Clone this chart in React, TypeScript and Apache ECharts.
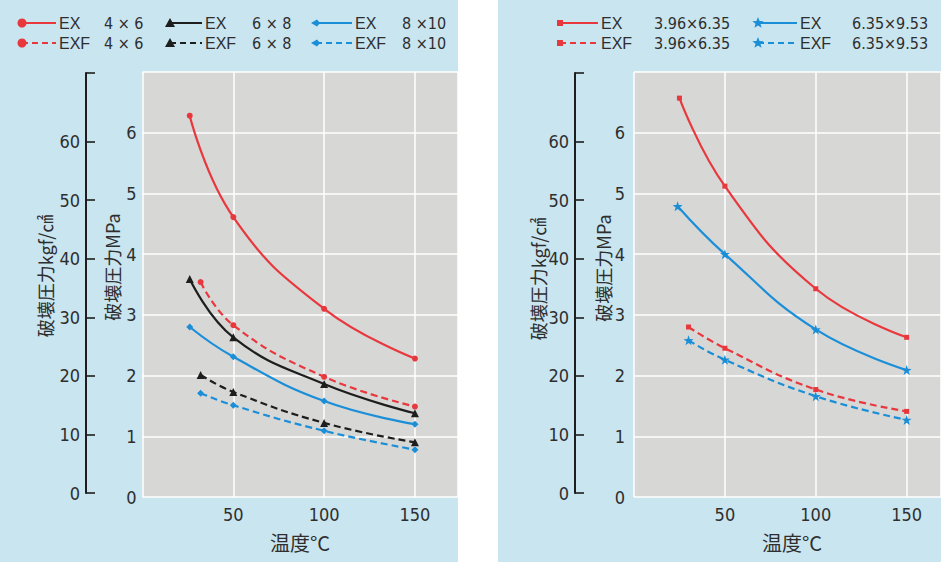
import React, { useEffect, useRef } from "react";
import * as echarts from "echarts";

// ---------- data ----------
const mpaTickLabels = [0, 1, 2, 3, 4, 5, 6];
const kgfTickLabels = [0, 10, 20, 30, 40, 50, 60];
const xTickLabels = [50, 100, 150];

const yNameKgf = "破壊圧力kgf/㎠";
const yNameMpa = "破壊圧力MPa";
const xName = "温度°C";

// left panel
const leftTempsEX = [26, 50, 100, 150];
const leftTempsEXF = [32, 50, 100, 150];
const ex4x6 = [6.28, 4.61, 3.1, 2.28];
const exf4x6 = [3.54, 2.83, 1.98, 1.49];
const ex6x8 = [3.59, 2.63, 1.86, 1.38];
const exf6x8 = [2.01, 1.73, 1.22, 0.9];
const ex8x10 = [2.8, 2.31, 1.58, 1.2];
const exf8x10 = [1.71, 1.51, 1.09, 0.78];

// right panel
const rightTempsEX396 = [25, 50, 100, 150];
const rightTempsEX635 = [24, 50, 100, 150];
const rightTempsEXF = [30, 50, 100, 150];
const ex396 = [6.57, 5.12, 3.43, 2.63];
const ex635 = [4.79, 4.0, 2.76, 2.09];
const exf396 = [2.8, 2.45, 1.77, 1.41];
const exf635 = [2.58, 2.26, 1.66, 1.27];

// ---------- styles ----------
const RED = "#e8383d";
const BLACK = "#1e1e1e";
const BLUE = "#1a8fd8";
const TEXT = "#2e2e2e";
const NARROW = '"Liberation Sans Narrow", "DejaVu Sans Condensed", "Roboto", sans-serif';
const SANS = '"Liberation Sans", Arial, sans-serif';
const CJK = '"Noto Sans CJK JP", sans-serif';
const STAR =
  "path://M0,-10 L2.35,-3.24 L9.51,-3.09 L3.8,1.24 L5.88,8.09 L0,4 L-5.88,8.09 L-3.8,1.24 L-9.51,-3.09 L-2.35,-3.24 Z";

type Spec = {
  kind: string;
  size: string;
  temps: number[];
  values: number[];
  color: string;
  marker: string;
  panel: number;
  col: number;
  row: number;
};

const specs: Spec[] = [
  { kind: "EX", size: "4×6", temps: leftTempsEX, values: ex4x6, color: RED, marker: "circle", panel: 0, col: 0, row: 0 },
  { kind: "EXF", size: "4×6", temps: leftTempsEXF, values: exf4x6, color: RED, marker: "circle", panel: 0, col: 0, row: 1 },
  { kind: "EX", size: "6×8", temps: leftTempsEX, values: ex6x8, color: BLACK, marker: "triangle", panel: 0, col: 1, row: 0 },
  { kind: "EXF", size: "6×8", temps: leftTempsEXF, values: exf6x8, color: BLACK, marker: "triangle", panel: 0, col: 1, row: 1 },
  { kind: "EX", size: "8×10", temps: leftTempsEX, values: ex8x10, color: BLUE, marker: "diamond", panel: 0, col: 2, row: 0 },
  { kind: "EXF", size: "8×10", temps: leftTempsEXF, values: exf8x10, color: BLUE, marker: "diamond", panel: 0, col: 2, row: 1 },
  { kind: "EX", size: "3.96×6.35", temps: rightTempsEX396, values: ex396, color: RED, marker: "rect", panel: 1, col: 0, row: 0 },
  { kind: "EXF", size: "3.96×6.35", temps: rightTempsEXF, values: exf396, color: RED, marker: "rect", panel: 1, col: 0, row: 1 },
  { kind: "EX", size: "6.35×9.53", temps: rightTempsEX635, values: ex635, color: BLUE, marker: "star", panel: 1, col: 1, row: 0 },
  { kind: "EXF", size: "6.35×9.53", temps: rightTempsEXF, values: exf635, color: BLUE, marker: "star", panel: 1, col: 1, row: 1 },
];

// layout
const mainGrids = [
  { left: 142.5, top: 72, width: 315.5, height: 425, xMax: 173.7 },
  { left: 634, top: 72, width: 307, height: 425, xMax: 168.9 },
];
const kgfAxes = [
  { left: 86, top: 73, height: 420, max: 71.7 },
  { left: 575, top: 73, height: 420, max: 71.7 },
];
const legendCols = [
  [
    { mx: 22, tx: 59, sx: 104 },
    { mx: 170, tx: 205, sx: 252 },
    { mx: 316, tx: 355, sx: 402 },
  ],
  [
    { mx: 560, tx: 601, sx: 654 },
    { mx: 758, tx: 800, sx: 852 },
  ],
];
const legendRows = [23, 43];
const nameSpots = [
  { kgf: [45, 276], mpa: [112, 267], x: [300, 542] },
  { kgf: [538, 279], mpa: [603, 268], x: [792, 542] },
];

function markerGraphic(marker: string, cx: number, cy: number, color: string): any {
  if (marker === "circle") return { type: "circle", shape: { cx, cy, r: 4.5 }, style: { fill: color } };
  if (marker === "rect") return { type: "rect", shape: { x: cx - 3, y: cy - 3, width: 6, height: 6 }, style: { fill: color } };
  if (marker === "triangle")
    return {
      type: "polygon",
      shape: { points: [[cx, cy - 5], [cx + 5, cy + 4], [cx - 5, cy + 4]] },
      style: { fill: color },
    };
  if (marker === "diamond")
    return {
      type: "polygon",
      shape: { points: [[cx - 5, cy], [cx + 1, cy - 3.5], [cx + 4, cy], [cx + 1, cy + 3.5]] },
      style: { fill: color },
    };
  // star
  const pts: number[][] = [];
  for (let i = 0; i < 10; i++) {
    const r = i % 2 === 0 ? 6 : 2.6;
    const a = -Math.PI / 2 + (i * Math.PI) / 5;
    pts.push([cx + r * Math.cos(a), cy + r * Math.sin(a)]);
  }
  return { type: "polygon", shape: { points: pts }, style: { fill: color } };
}

function seriesSymbol(marker: string) {
  if (marker === "star") return { symbol: STAR, symbolSize: 10 };
  if (marker === "rect") return { symbol: "rect", symbolSize: 5 };
  if (marker === "triangle") return { symbol: "triangle", symbolSize: 8 };
  if (marker === "diamond") return { symbol: "diamond", symbolSize: 7 };
  return { symbol: "circle", symbolSize: 6 };
}

function displaySize(panel: number, size: string) {
  if (panel !== 0) return size;
  const [a, b] = size.split("×");
  return a + " ×" + (b.length > 1 ? "" : " ") + b;
}

export default function App() {
  const ref = useRef<HTMLDivElement>(null);
  useEffect(() => {
    document.body.style.margin = "0";
    const chart = echarts.init(ref.current!, null, { renderer: "svg" });

    const grids: any[] = [];
    const xAxes: any[] = [];
    const yAxes: any[] = [];

    mainGrids.forEach((g, i) => {
      grids.push({
        left: g.left,
        top: g.top,
        width: g.width,
        height: g.height,
        show: true,
        backgroundColor: "#d7d7d6",
        borderWidth: 0,
      });
      xAxes.push({
        gridIndex: i,
        type: "value",
        min: 0,
        max: g.xMax,
        interval: 50,
        axisLine: { show: false },
        axisTick: { show: false },
        axisLabel: {
          customValues: xTickLabels,
          color: TEXT,
          fontSize: 18,
          fontFamily: NARROW,
          margin: 8,
        },
        splitLine: { show: true, lineStyle: { color: "#ffffff", width: 1.5 } },
      });
      yAxes.push({
        gridIndex: i,
        type: "value",
        min: 0,
        max: 7,
        interval: 1,
        axisLine: { show: false },
        axisTick: { show: false },
        axisLabel: {
          customValues: mpaTickLabels,
          color: TEXT,
          fontSize: 18,
          fontFamily: NARROW,
          margin: i === 0 ? 6 : 9,
        },
        splitLine: { show: true, lineStyle: { color: "#ffffff", width: 1.5 } },
      });
    });

    kgfAxes.forEach((k, j) => {
      const gi = 2 + j;
      grids.push({ left: k.left, top: k.top, width: 12, height: k.height, show: false });
      xAxes.push({ gridIndex: gi, type: "value", min: 0, max: 1, show: false });
      yAxes.push({
        gridIndex: gi,
        type: "value",
        min: 0,
        max: k.max,
        interval: 10,
        axisLine: { show: true, lineStyle: { color: BLACK, width: 2 } },
        axisTick: {
          show: true,
          inside: true,
          length: 9,
          customValues: [...kgfTickLabels, k.max],
          lineStyle: { color: BLACK, width: 1.6 },
        },
        axisLabel: {
          customValues: kgfTickLabels,
          color: TEXT,
          fontSize: 18,
          fontFamily: NARROW,
          margin: 6,
        },
        splitLine: { show: false },
      });
    });

    const series = specs.map((s) => ({
      type: "line",
      name: `${s.kind} ${s.size}`,
      xAxisIndex: s.panel,
      yAxisIndex: s.panel,
      data: s.temps.map((t, i) => [t, s.values[i]]),
      smooth: 0.45,
      ...seriesSymbol(s.marker),
      showSymbol: true,
      lineStyle: { color: s.color, width: 2.2, type: s.kind === "EXF" ? [7, 4] : "solid" },
      itemStyle: { color: s.color },
      z: 3,
    }));

    const graphics: any[] = [];
    specs.forEach((s) => {
      const c = legendCols[s.panel][s.col];
      const y = legendRows[s.row];
      graphics.push({
        type: "line",
        shape: { x1: c.mx, y1: y, x2: c.tx - 3, y2: y },
        style: { stroke: s.color, lineWidth: 2, lineDash: s.kind === "EXF" ? [6, 4] : null },
      });
      graphics.push(markerGraphic(s.marker, c.mx, y, s.color));
      graphics.push({
        type: "text",
        x: c.tx,
        y,
        style: {
          text: s.kind,
          fill: TEXT,
          fontSize: 16,
          lineHeight: 16,
          fontFamily: SANS,
          textVerticalAlign: "middle",
        },
      });
      graphics.push({
        type: "text",
        x: c.sx,
        y,
        style: {
          text: displaySize(s.panel, s.size),
          fill: TEXT,
          fontSize: 16,
          lineHeight: 16,
          fontFamily: NARROW,
          textVerticalAlign: "middle",
        },
      });
    });
    nameSpots.forEach((n) => {
      graphics.push({
        type: "text",
        x: n.kgf[0],
        y: n.kgf[1],
        rotation: Math.PI / 2,
        style: { text: yNameKgf, fill: TEXT, fontSize: 18, fontFamily: CJK, textAlign: "center", textVerticalAlign: "middle" },
      });
      graphics.push({
        type: "text",
        x: n.mpa[0],
        y: n.mpa[1],
        rotation: Math.PI / 2,
        style: { text: yNameMpa, fill: TEXT, fontSize: 18, fontFamily: CJK, textAlign: "center", textVerticalAlign: "middle" },
      });
      graphics.push({
        type: "text",
        x: n.x[0],
        y: n.x[1],
        style: { text: xName, fill: TEXT, fontSize: 20, fontFamily: CJK, textAlign: "center", textVerticalAlign: "middle" },
      });
    });

    chart.setOption({
      animation: false,
      backgroundColor: "transparent",
      grid: grids,
      xAxis: xAxes,
      yAxis: yAxes,
      series,
      graphic: graphics,
    });
    return () => chart.dispose();
  }, []);

  return (
    <div
      ref={ref}
      style={{
        position: "fixed",
        left: 0,
        top: 0,
        width: 941,
        height: 562,
        background:
          "linear-gradient(to right, #c9e5f0 0px, #c9e5f0 458px, #ffffff 458px, #ffffff 498px, #c9e5f0 498px, #c9e5f0 941px)",
      }}
    />
  );
}
